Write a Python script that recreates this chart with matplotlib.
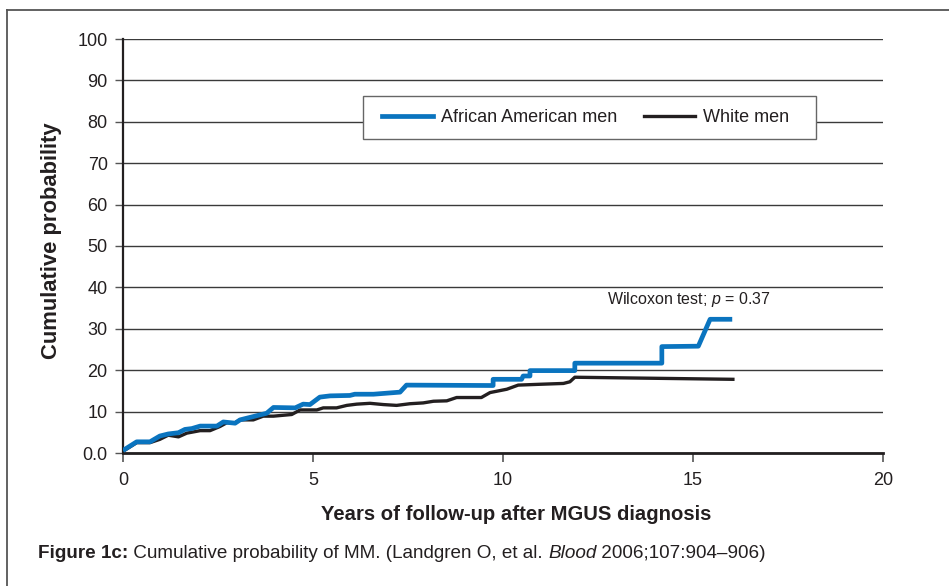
import matplotlib
matplotlib.use('Agg')
import matplotlib.pyplot as plt
from matplotlib.lines import Line2D
from matplotlib.patches import Rectangle

plt.rcParams['font.family'] = ['Liberation Sans', 'DejaVu Sans']
plt.rcParams['mathtext.fontset'] = 'custom'
plt.rcParams['mathtext.it'] = 'Liberation Sans:italic'
plt.rcParams['mathtext.rm'] = 'Liberation Sans'

# cumulative probability (%)
aa_years = [0.05, 0.36, 0.71, 0.97, 1.19, 1.46, 1.63, 1.81, 2.03, 2.47, 2.64, 2.95, 3.08,
            3.34, 3.78, 3.96, 4.53, 4.74, 4.92, 5.18, 5.45, 5.97, 6.10, 6.59, 7.29, 7.46,
            9.74, 9.74, 10.49, 10.53, 10.71, 10.71, 11.89, 11.89, 14.18, 14.18, 15.14,
            15.45, 15.97]
aa_prob = [0.9, 2.7, 2.7, 4.1, 4.6, 4.9, 5.7, 5.9, 6.5, 6.5, 7.5, 7.2, 8.0,
           8.6, 9.6, 11.0, 10.9, 11.8, 11.7, 13.5, 13.8, 13.9, 14.2, 14.2, 14.7, 16.4,
           16.3, 17.8, 17.8, 18.6, 18.6, 19.9, 19.9, 21.7, 21.7, 25.7, 25.8,
           32.3, 32.3]

white_years = [0.05, 0.36, 0.71, 0.97, 1.19, 1.46, 1.68, 2.03, 2.29, 2.55, 2.73, 2.95,
               3.08, 3.43, 3.69, 3.96, 4.44, 4.66, 5.10, 5.27, 5.62, 5.89, 6.15, 6.50,
               6.85, 7.20, 7.55, 7.90, 8.17, 8.52, 8.78, 9.43, 9.66, 10.10, 10.40,
               10.97, 11.59, 11.76, 11.89, 16.05]
white_prob = [0.7, 2.5, 2.5, 3.3, 4.3, 3.9, 4.8, 5.4, 5.4, 6.4, 7.3, 7.3,
              8.0, 8.0, 8.9, 8.9, 9.3, 10.4, 10.4, 10.9, 10.9, 11.5, 11.8, 12.0,
              11.7, 11.5, 11.9, 12.1, 12.5, 12.6, 13.4, 13.4, 14.6, 15.4, 16.4,
              16.6, 16.8, 17.2, 18.3, 17.8]

x_ticks = [0, 5, 10, 15, 20]
y_ticks = [0, 10, 20, 30, 40, 50, 60, 70, 80, 90, 100]
y_tick_labels = ['0.0', '10', '20', '30', '40', '50', '60', '70', '80', '90', '100']
series_names = ['African American men', 'White men']

blue = '#0a74bf'
dark = '#231f20'
txt = '#231f20'

fig = plt.figure(figsize=(9.49, 5.86), dpi=100)
ax = fig.add_axes([123 / 949, 1 - 453 / 586, 760 / 949, 414 / 586])

ax.plot(aa_years, aa_prob, color=blue, lw=3.4, zorder=4)
ax.plot(white_years, white_prob, color=dark, lw=2.4, zorder=3)

ax.set_xlim(0, 20)
ax.set_ylim(0, 100)
ax.set_xticks(x_ticks)
ax.set_yticks(y_ticks)
ax.set_yticklabels(y_tick_labels)
ax.yaxis.grid(True, color='#3a3a3a', lw=1.0)
ax.set_axisbelow(True)
for s in ['top', 'right']:
    ax.spines[s].set_visible(False)
ax.spines['left'].set_linewidth(1.6)
ax.spines['bottom'].set_linewidth(2.0)
ax.spines['left'].set_color(dark)
ax.spines['bottom'].set_color(dark)
ax.tick_params(axis='y', length=6, width=1.0, color='#555555', labelsize=13, labelcolor=txt, pad=5)
ax.tick_params(axis='x', length=6.5, width=1.2, color='#555555', labelsize=13, labelcolor=txt, pad=7)

fig.text(52 / 949, 1 - 241 / 586, 'Cumulative probability', rotation=90,
         fontsize=15.8, fontweight='bold', color=txt, ha='center', va='center')
fig.text(516 / 949, 1 - 514 / 586, 'Years of follow-up after MGUS diagnosis',
         fontsize=14.6, fontweight='bold', color=txt, ha='center', va='center')

ax.text(14.89, 37.0, r'Wilcoxon test; $p$ = 0.37', fontsize=11.5, color=txt, ha='center', va='center')

# legend box
ax.add_patch(Rectangle((0.3154, 0.7585), 0.5964, 0.1038, transform=ax.transAxes,
                       facecolor='white', edgecolor='#666666', lw=1.0, zorder=5))
handles = [Line2D([], [], color=blue, lw=3.4), Line2D([], [], color=dark, lw=2.4)]
leg = ax.legend(handles, series_names, ncol=2, loc='center left',
                bbox_to_anchor=(0.3408, 0.8104), fontsize=13, frameon=False,
                handlelength=2.83, handletextpad=0.45, columnspacing=1.45,
                borderpad=0, borderaxespad=0)
leg.set_zorder(6)
for t in leg.get_texts():
    t.set_color(txt)

# outer frame (left and top edges only, as in the cropped figure)
fig.add_artist(Line2D([6.5 / 949, 6.5 / 949], [0, 1 - 10 / 586], color='#555555', lw=1.3))
fig.add_artist(Line2D([6.5 / 949, 1], [1 - 10 / 586, 1 - 10 / 586], color='#555555', lw=1.3))

# caption built from pieces
fig.canvas.draw()
r = fig.canvas.get_renderer()
cap_y = 1 - 553 / 586
parts = [('Figure 1c:', 'bold', 'normal'),
         (' Cumulative probability of MM. (Landgren O, et al. ', 'normal', 'normal'),
         ('Blood', 'normal', 'italic'),
         (' 2006;107:904\u2013906)', 'normal', 'normal')]
x0 = 38 / 949
for s, w, st in parts:
    t = fig.text(x0, cap_y, s, fontsize=13.6, fontweight=w, fontstyle=st, color=txt,
                 ha='left', va='center')
    bb = t.get_window_extent(renderer=r)
    x0 = bb.x1 / fig.bbox.width

fig.savefig('out.png', dpi=100)
